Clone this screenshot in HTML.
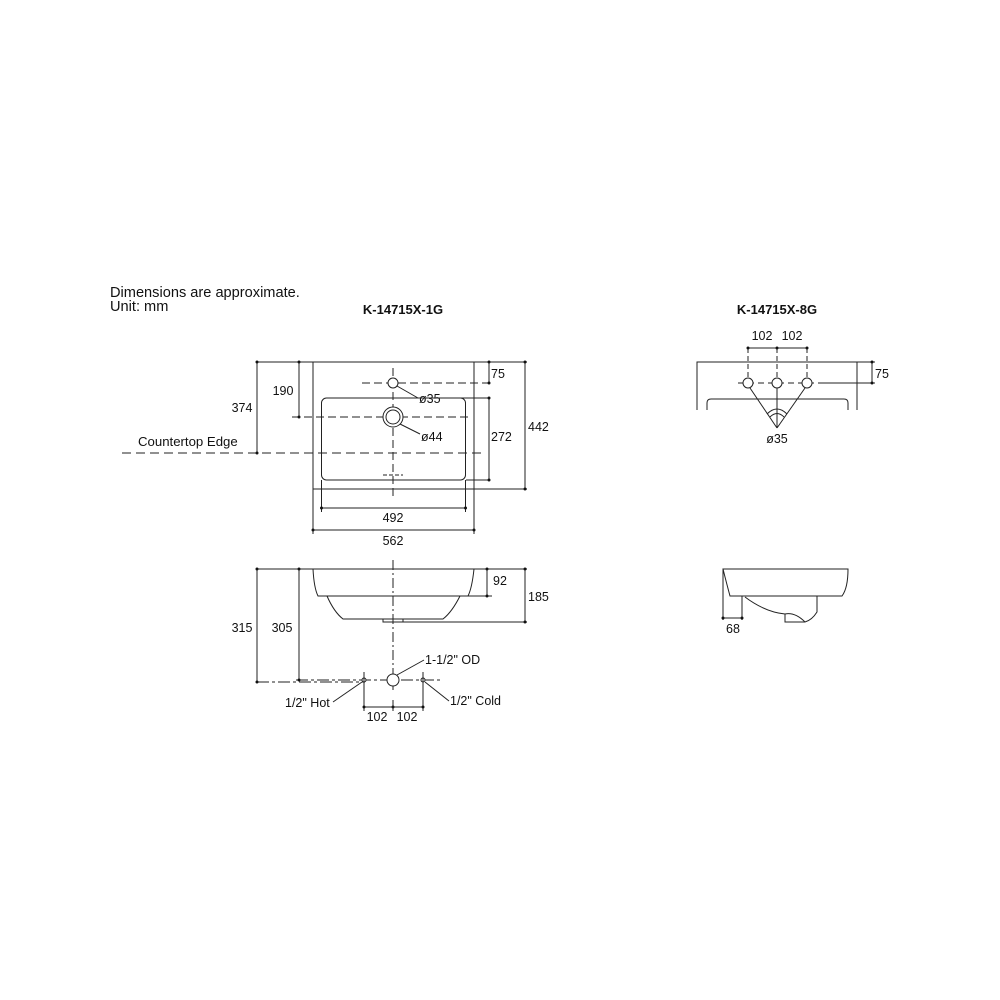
<!DOCTYPE html>
<html><head><style>html,body{margin:0;padding:0;background:#fff}svg{display:block}</style></head><body>
<svg width="1000" height="1000" viewBox="0 0 1000 1000" xmlns="http://www.w3.org/2000/svg" font-family="Liberation Sans, Arial, sans-serif" fill="none" stroke="#222" stroke-width="1">
<g fill="#111" stroke="none" font-size="12.5">
<text x="110" y="297" font-size="14.6">Dimensions are approximate.</text>
<text x="110" y="311" font-size="14.6">Unit: mm</text>
<text x="403" y="314" text-anchor="middle" font-weight="bold" font-size="13">K-14715X-1G</text>
<text x="777" y="314" text-anchor="middle" font-weight="bold" font-size="13">K-14715X-8G</text>
<text x="242" y="412" text-anchor="middle">374</text>
<text x="283" y="395" text-anchor="middle">190</text>
<text x="138" y="446" font-size="13.2">Countertop Edge</text>
<text x="491" y="378">75</text>
<text x="491" y="441">272</text>
<text x="528" y="431">442</text>
<text x="419" y="403">ø35</text>
<text x="421" y="441">ø44</text>
<text x="393" y="522" text-anchor="middle">492</text>
<text x="393" y="545" text-anchor="middle">562</text>
<text x="242" y="632" text-anchor="middle">315</text>
<text x="282" y="632" text-anchor="middle">305</text>
<text x="493" y="585">92</text>
<text x="528" y="601">185</text>
<text x="425" y="664">1-1/2" OD</text>
<text x="285" y="707">1/2" Hot</text>
<text x="450" y="705">1/2" Cold</text>
<text x="377" y="721" text-anchor="middle">102</text>
<text x="407" y="721" text-anchor="middle">102</text>
<text x="762" y="340" text-anchor="middle">102</text>
<text x="792" y="340" text-anchor="middle">102</text>
<text x="875" y="378">75</text>
<text x="777" y="443" text-anchor="middle">ø35</text>
<text x="733" y="633" text-anchor="middle">68</text>
</g>
<rect x="313" y="362" width="161" height="127"/>
<rect x="321.5" y="398" width="144" height="82" rx="5"/>
<line x1="393" y1="368" x2="393" y2="500" stroke-dasharray="8,4"/>
<line x1="362" y1="383" x2="489" y2="383" stroke-dasharray="8,4"/>
<line x1="292" y1="417" x2="468" y2="417" stroke-dasharray="8,4"/>
<line x1="122" y1="453" x2="485" y2="453" stroke-dasharray="9,5"/>
<line x1="383" y1="475" x2="403" y2="475" stroke-dasharray="4,2"/>
<circle cx="393" cy="383" r="5" fill="#fff"/>
<circle cx="393" cy="417" r="10" fill="#fff"/>
<circle cx="393" cy="417" r="7"/>
<line x1="397" y1="386" x2="418" y2="398"/>
<line x1="442" y1="398" x2="489" y2="398"/>
<line x1="400" y1="424" x2="420" y2="434"/>
<line x1="257" y1="362" x2="313" y2="362"/>
<line x1="257" y1="362" x2="257" y2="453"/>
<line x1="299" y1="362" x2="299" y2="417"/>
<line x1="474" y1="362" x2="527" y2="362"/>
<line x1="489" y1="362" x2="489" y2="383"/>
<line x1="489" y1="398" x2="489" y2="480"/>
<line x1="466" y1="480" x2="489" y2="480"/>
<line x1="474" y1="489" x2="527" y2="489"/>
<line x1="525" y1="362" x2="525" y2="489"/>
<line x1="321.5" y1="480" x2="321.5" y2="512"/>
<line x1="465.5" y1="480" x2="465.5" y2="512"/>
<line x1="321.5" y1="508" x2="465.5" y2="508"/>
<line x1="313" y1="489" x2="313" y2="534"/>
<line x1="474" y1="489" x2="474" y2="534"/>
<line x1="313" y1="530" x2="474" y2="530"/>
<path d="M313 569 H474 Q472 588 468 596 H318 Q314 588 313 569 Z"/>
<path d="M327 596 Q334 612 343 619 H443 Q452 612 460 596"/>
<path d="M383 619 V622 H403 V619"/>
<line x1="393" y1="560" x2="393" y2="690" stroke-dasharray="10,3,2,3"/>
<line x1="257" y1="569" x2="313" y2="569"/>
<line x1="257" y1="569" x2="257" y2="682"/>
<line x1="299" y1="569" x2="299" y2="680"/>
<line x1="257" y1="682" x2="365" y2="682" stroke-dasharray="12,3,3,3"/>
<line x1="296" y1="680" x2="440" y2="680" stroke-dasharray="12,3,3,3"/>
<line x1="468" y1="596" x2="492" y2="596"/>
<line x1="487" y1="569" x2="487" y2="596"/>
<line x1="474" y1="569" x2="527" y2="569"/>
<line x1="403" y1="622" x2="527" y2="622"/>
<line x1="525" y1="569" x2="525" y2="622"/>
<circle cx="393" cy="680" r="6" fill="#fff"/>
<circle cx="364" cy="680" r="2" fill="#fff"/>
<circle cx="423" cy="680" r="2" fill="#fff"/>
<line x1="364" y1="672" x2="364" y2="711"/>
<line x1="423" y1="672" x2="423" y2="711"/>
<line x1="364" y1="707" x2="423" y2="707"/>
<line x1="397" y1="675" x2="424" y2="660"/>
<line x1="362" y1="682" x2="333" y2="702"/>
<line x1="425" y1="682" x2="449" y2="701"/>
<path d="M697 410 V362 H857 V410"/>
<path d="M707 410 V403 Q707 399 711 399 H844 Q848 399 848 403 V410"/>
<line x1="748" y1="348" x2="748" y2="383" stroke-dasharray="5,3"/>
<line x1="807" y1="348" x2="807" y2="383" stroke-dasharray="5,3"/>
<line x1="777" y1="348" x2="777" y2="428" stroke-dasharray="5,3"/>
<line x1="748" y1="348" x2="807" y2="348"/>
<line x1="738" y1="383" x2="866" y2="383" stroke-dasharray="6,4"/>
<circle cx="748" cy="383" r="5" fill="#fff"/>
<circle cx="777" cy="383" r="5" fill="#fff"/>
<circle cx="807" cy="383" r="5" fill="#fff"/>
<line x1="750" y1="388" x2="777" y2="428"/>
<line x1="805" y1="388" x2="777" y2="428"/>
<line x1="777" y1="388" x2="777" y2="428"/>
<path d="M767 414 Q777 404 787 414"/>
<path d="M770 417 Q777 410 784 417"/>
<line x1="857" y1="362" x2="875" y2="362"/>
<line x1="818" y1="383" x2="875" y2="383"/>
<line x1="872" y1="362" x2="872" y2="383"/>
<path d="M723 569 H848 Q848 588 842 596 H730 Q727 585 723 569 Z"/>
<path d="M745 597 Q765 612 785 614 V622 H805 Q812 620 817 612 V596"/>
<path d="M785 614 Q795 612 805 622"/>
<line x1="723" y1="569" x2="723" y2="620"/>
<line x1="742" y1="596" x2="742" y2="620"/>
<line x1="723" y1="618" x2="742" y2="618"/>
<g fill="#111" stroke="none">
<circle cx="257" cy="362" r="1.5"/><circle cx="257" cy="453" r="1.5"/><circle cx="299" cy="362" r="1.5"/><circle cx="299" cy="417" r="1.5"/>
<circle cx="489" cy="362" r="1.5"/><circle cx="489" cy="383" r="1.5"/><circle cx="489" cy="398" r="1.5"/><circle cx="489" cy="480" r="1.5"/>
<circle cx="525" cy="362" r="1.5"/><circle cx="525" cy="489" r="1.5"/>
<circle cx="321.5" cy="508" r="1.5"/><circle cx="465.5" cy="508" r="1.5"/><circle cx="313" cy="530" r="1.5"/><circle cx="474" cy="530" r="1.5"/>
<circle cx="257" cy="569" r="1.5"/><circle cx="257" cy="682" r="1.5"/><circle cx="299" cy="569" r="1.5"/><circle cx="299" cy="680" r="1.5"/>
<circle cx="487" cy="569" r="1.5"/><circle cx="487" cy="596" r="1.5"/><circle cx="525" cy="569" r="1.5"/><circle cx="525" cy="622" r="1.5"/>
<circle cx="364" cy="707" r="1.5"/><circle cx="393" cy="707" r="1.5"/><circle cx="423" cy="707" r="1.5"/>
<circle cx="748" cy="348" r="1.5"/><circle cx="777" cy="348" r="1.5"/><circle cx="807" cy="348" r="1.5"/>
<circle cx="872" cy="362" r="1.5"/><circle cx="872" cy="383" r="1.5"/>
<circle cx="723" cy="618" r="1.5"/><circle cx="742" cy="618" r="1.5"/>
</g>
<line x1="393" y1="700" x2="393" y2="711"/>
</svg>
</body></html>
